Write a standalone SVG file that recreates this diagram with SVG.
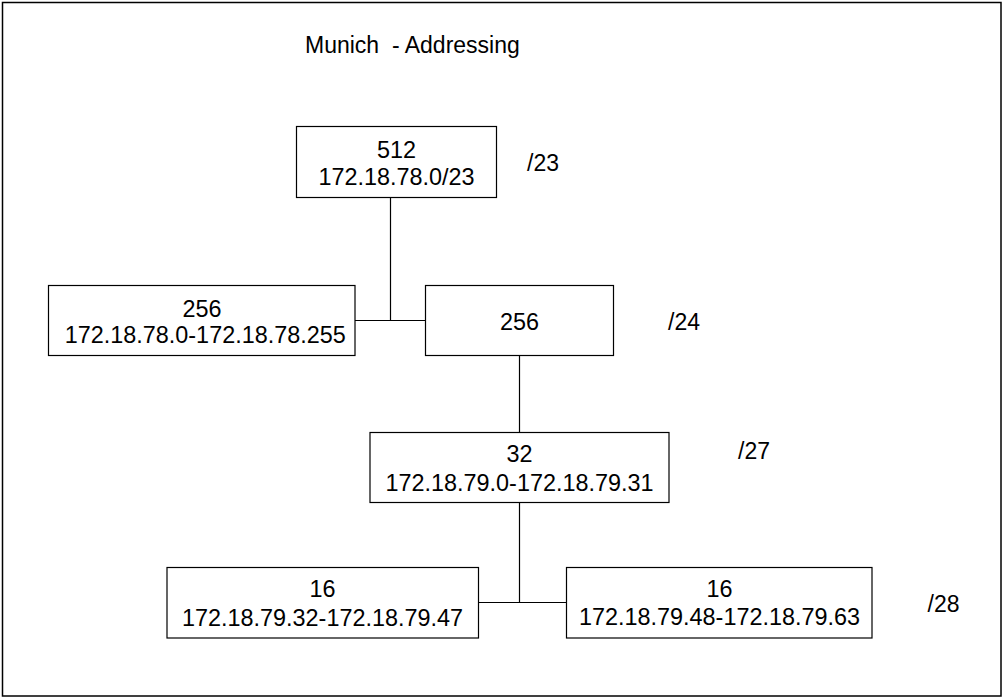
<svg xmlns="http://www.w3.org/2000/svg" width="1004" height="700" viewBox="0 0 1004 700">
<style>
.box{fill:#fff;stroke:#000;stroke-width:1.2}
.t{font-family:"Liberation Sans",Arial,sans-serif;font-size:23.4px;fill:#000;text-anchor:middle;white-space:pre}
.l{font-family:"Liberation Sans",Arial,sans-serif;font-size:23px;fill:#000;white-space:pre}
.c{stroke:#000;stroke-width:1.2;fill:none}
</style>
<rect x="0" y="0" width="1004" height="700" fill="#fff"/>
<rect x="2.5" y="2.5" width="998.5" height="693.5" fill="none" stroke="#000" stroke-width="1.5"/>
<text class="l" x="305" y="53" xml:space="preserve">Munich  - Addressing</text>
<g id="connectors">
<path class="c" d="M390.5 197.5V320.5M355 320.5H425.5"/>
<path class="c" d="M519.5 355.5V432.5"/>
<path class="c" d="M519.5 502.5V602.5M478.5 602.5H566.5"/>
</g>
<g id="n512">
<rect class="box" x="296.5" y="126.5" width="200" height="71"/>
<text class="t" x="396.5" y="157.5">512</text>
<text class="t" x="396.5" y="185">172.18.78.0/23</text>
</g>
<g id="n256a">
<rect class="box" x="48.5" y="285.5" width="306.5" height="70"/>
<text class="t" x="202" y="316.5">256</text>
<text class="t" x="202" y="343" xml:space="preserve"> 172.18.78.0-172.18.78.255</text>
</g>
<g id="n256b">
<rect class="box" x="425.5" y="285.5" width="188" height="70"/>
<text class="t" x="519.5" y="330">256</text>
</g>
<g id="n32">
<rect class="box" x="370" y="432.5" width="299" height="70"/>
<text class="t" x="519.5" y="462">32</text>
<text class="t" x="519.5" y="490.5">172.18.79.0-172.18.79.31</text>
</g>
<g id="n16a">
<rect class="box" x="167" y="567.5" width="311.5" height="70.5"/>
<text class="t" x="322.5" y="597">16</text>
<text class="t" x="322.5" y="625.5">172.18.79.32-172.18.79.47</text>
</g>
<g id="n16b">
<rect class="box" x="566.5" y="567.5" width="305.5" height="70.5"/>
<text class="t" x="719.5" y="597">16</text>
<text class="t" x="719.5" y="625">172.18.79.48-172.18.79.63</text>
</g>
<g id="labels">
<text class="l" x="527" y="171">/23</text>
<text class="l" x="668" y="329.5">/24</text>
<text class="l" x="738" y="458.5">/27</text>
<text class="l" x="927.5" y="612">/28</text>
</g>
</svg>
